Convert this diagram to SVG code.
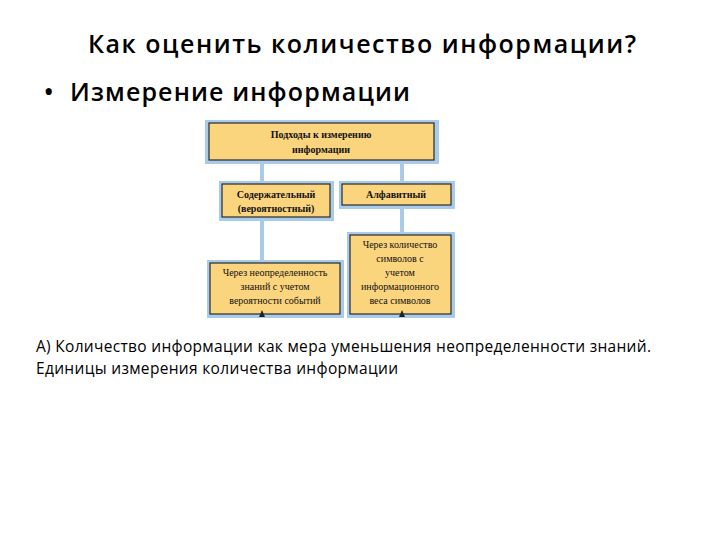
<svg xmlns="http://www.w3.org/2000/svg" width="720" height="540" viewBox="0 0 720 540">
<style>
.b{fill:#fbd47e;stroke:#2a2a2a;stroke-width:1.2}
.s{fill:#a9cbea}
.t{font-family:"Liberation Serif",serif;font-size:10px;fill:#111;text-anchor:middle}
.tb{font-family:"Liberation Serif",serif;font-size:10px;font-weight:bold;fill:#111;text-anchor:middle}
.c{stroke:#a9cbea;stroke-width:4}
.h{font-family:"Open Sans","Liberation Sans",sans-serif;fill:#000}
</style>
<rect width="720" height="540" fill="#fff"/>
<text class="h" x="362" y="53" font-size="25" font-weight="600" text-anchor="middle" textLength="548">Как оценить  количество информации?</text>
<text class="h" x="44" y="101" font-size="25" font-weight="600">• <tspan x="70" textLength="340">Измерение информации</tspan></text>
<g id="connectors">
<line class="c" x1="262" y1="160" x2="262" y2="184"/>
<line class="c" x1="402" y1="160" x2="402" y2="184"/>
<line class="c" x1="262" y1="217" x2="262" y2="263"/>
<line class="c" x1="402" y1="205" x2="402" y2="235"/>
</g>
<g id="top"><rect class="s" x="205" y="120" width="234" height="44"/><rect class="b" x="209" y="123" width="225" height="37"/>
<text class="tb" x="321" y="138">Подходы к измерению</text><text class="tb" x="321" y="153">информации</text></g>
<g id="left"><rect class="s" x="219" y="181" width="115" height="40"/><rect class="b" x="222" y="184" width="108" height="33"/>
<text class="tb" x="276" y="198">Содержательный</text><text class="tb" x="276" y="212">(вероятностный)</text></g>
<g id="right"><rect class="s" x="339" y="181" width="116" height="28"/><rect class="b" x="342" y="184" width="109" height="21"/>
<text class="tb" x="396" y="198">Алфавитный</text></g>
<g id="bl"><rect class="s" x="207" y="260" width="137" height="58"/><rect class="b" x="210" y="263" width="130" height="51"/>
<text class="t" x="275" y="276">Через неопределенность</text><text class="t" x="275" y="290">знаний с учетом</text><text class="t" x="275" y="304">вероятности событий</text></g>
<g id="br"><rect class="s" x="347" y="232" width="108" height="86"/><rect class="b" x="350" y="235" width="101" height="79"/>
<text class="t" x="400" y="248">Через количество</text><text class="t" x="400" y="262">символов с</text><text class="t" x="400" y="276">учетом</text><text class="t" x="400" y="290">информационного</text><text class="t" x="400" y="304">веса символов</text></g>
<g id="arrowheads">
<path d="M259,317 L262,310 L265,317Z" fill="#222"/>
<path d="M399,317 L402,310 L405,317Z" fill="#222"/>
</g>
<text class="h" x="36" y="352" font-size="15.5" textLength="615">А) Количество информации как мера уменьшения неопределенности знаний.</text>
<text class="h" x="36" y="374" font-size="15.5" textLength="362">Единицы измерения количества информации</text>
</svg>
